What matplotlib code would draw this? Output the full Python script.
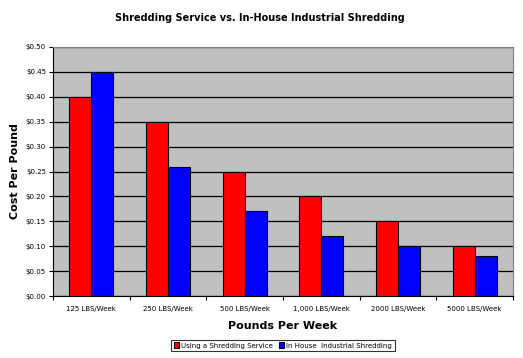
import numpy as np
import matplotlib.pyplot as plt

categories = ["125 LBS/Week", "250 LBS/Week", "500 LBS/Week",
              "1,000 LBS/Week", "2000 LBS/Week", "5000 LBS/Week"]
service = [0.40, 0.35, 0.25, 0.20, 0.15, 0.10]
in_house = [0.45, 0.26, 0.17, 0.12, 0.10, 0.08]
yticks = np.arange(0, 0.501, 0.05)

fig = plt.figure(figsize=(5.23, 3.58), dpi=100)
ax = fig.add_axes([53 / 523, 62 / 358, 460 / 523, 249 / 358])
ax.set_facecolor("#c0c0c0")

x = np.arange(len(categories))
w = 0.287
ax.bar(x - w / 2, service, w, color="#ff0000", edgecolor="black", linewidth=0.8,
       label="Using a Shredding Service", zorder=3)
ax.bar(x + w / 2, in_house, w, color="#0000ff", edgecolor="black", linewidth=0.8,
       label="In House  Industrial Shredding", zorder=3)

ax.set_xlim(-0.5, len(categories) - 0.5)
ax.set_ylim(0, 0.5)
ax.set_yticks(yticks)
ax.set_yticklabels(["${:.2f}".format(v) for v in yticks], fontsize=5)
ax.yaxis.grid(True, color="black", linewidth=0.9, zorder=1)
ax.set_axisbelow(True)

ax.set_xticks(x)
ax.set_xticklabels(categories, fontsize=5)
ax.set_xticks(np.arange(-0.5, len(categories)), minor=True)
ax.tick_params(axis="x", which="major", length=0, pad=7)
ax.tick_params(axis="x", which="minor", length=3, width=0.8, direction="out")
ax.tick_params(axis="y", length=3, width=0.8, direction="out", pad=2)

for s in ["top", "right"]:
    ax.spines[s].set_color("#808080")
for s in ["left", "bottom"]:
    ax.spines[s].set_color("black")

fig.text(260 / 523, 340 / 358, "Shredding Service vs. In-House Industrial Shredding",
         fontsize=7, fontweight="bold", ha="center", va="center")
ax.set_xlabel("Pounds Per Week", fontsize=8, fontweight="bold", labelpad=7)
ax.set_ylabel("Cost Per Pound", fontsize=8, fontweight="bold", labelpad=4)

leg = fig.legend(loc="center", bbox_to_anchor=(283 / 523, 12.5 / 358), ncol=2,
                 fontsize=5, frameon=True, fancybox=False, edgecolor="black",
                 handlelength=0.8, handleheight=0.8, handletextpad=0.3,
                 columnspacing=0.8, borderpad=0.4)
leg.get_frame().set_linewidth(0.8)

fig.savefig("out.png", dpi=100)
